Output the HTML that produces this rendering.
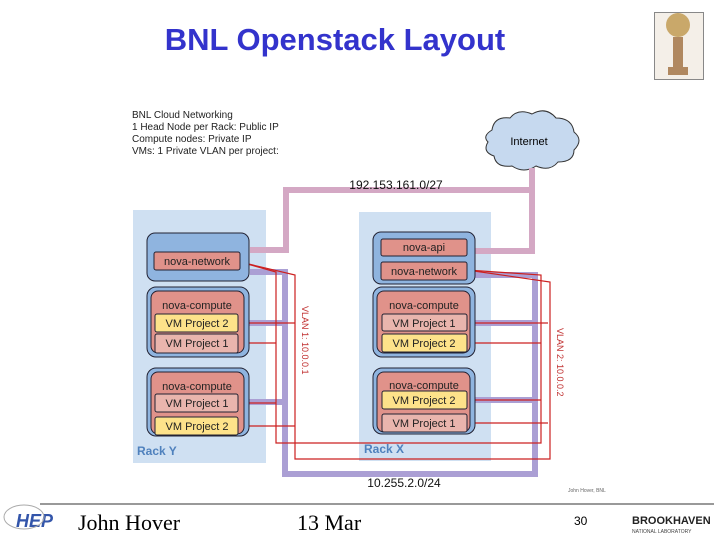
<!DOCTYPE html>
<html><head><style>
body{margin:0;width:720px;height:540px;background:#fff;position:relative;overflow:hidden;font-family:"Liberation Sans",sans-serif}
.a{position:absolute}
</style></head><body>
<div class="a" style="left:0;top:22px;width:670px;text-align:center;font-size:31px;font-weight:bold;color:#3333cc">BNL Openstack Layout</div>
<div class="a" style="left:654px;top:12px;width:48px;height:66px;border:1px solid #888;background:#f4efe8"></div>
<svg class="a" style="left:0;top:0" width="720" height="540">
<g transform="translate(678,45)" fill="#b08860"><circle cx="0" cy="-20" r="12" fill="#c9a86a"/><rect x="-5" y="-8" width="10" height="30"/><rect x="-10" y="22" width="20" height="8"/></g>
<g font-size="10" fill="#222"><text x="132" y="118">BNL Cloud Networking</text><text x="132" y="130">1 Head Node per Rack: Public IP</text><text x="132" y="142">Compute nodes: Private IP</text><text x="132" y="154">VMs: 1 Private VLAN per project:</text></g>
<path d="M492,130 q2,-14 18,-12 q8,-10 22,-4 q14,-8 24,4 q16,0 18,14 q10,8 0,18 q0,12 -16,12 q-8,10 -22,4 q-12,8 -24,0 q-16,2 -18,-10 q-12,-4 -6,-14 q-6,-6 4,-12z" fill="#c6d9ef" stroke="#333" stroke-width="1"/>
<text x="529" y="145" font-size="11" text-anchor="middle">Internet</text>
<rect x="133" y="210" width="133" height="253" fill="#cfe0f2"/>
<rect x="359" y="212" width="132" height="249" fill="#cfe0f2"/>
<g fill="none" stroke-width="6">
<path d="M250,250 H286 V190 H532 V168 M532,190 V251 H475" stroke="#d4a8c4"/>
<path d="M250,272 H285 V474 H535 V275 H475 M249,323 H285 M249,402 H285 M475,323 H535 M475,400 H535" stroke="#ab9fd4"/>
</g>
<g fill="none" stroke="#cc2020" stroke-width="1.2">
<path d="M240,262 L276,272 V443 H541 V275 L467,270"/>
<path d="M240,262 L295,275 V459 H550 V282 L467,270"/>
<path d="M238,323 H295 M238,343 H276 M238,403 H276 M238,426 H295"/>
<path d="M467,323 H548 M467,343 H541 M467,400 H541 M467,423 H548"/>
</g>
<g stroke="#223" stroke-width="1">
<rect x="147" y="233" width="102" height="48" rx="8" fill="#8fb4df"/>
<rect x="147" y="287" width="102" height="70" rx="9" fill="#8fb4df"/>
<rect x="147" y="368" width="102" height="68" rx="9" fill="#8fb4df"/>
<rect x="373" y="232" width="102" height="52" rx="8" fill="#8fb4df"/>
<rect x="373" y="287" width="102" height="70" rx="9" fill="#8fb4df"/>
<rect x="373" y="368" width="102" height="66" rx="9" fill="#8fb4df"/>
<rect x="151" y="291" width="93" height="62" rx="7" fill="#e0928a"/>
<rect x="151" y="372" width="93" height="62" rx="7" fill="#e0928a"/>
<rect x="377" y="291" width="93" height="62" rx="7" fill="#e0928a"/>
<rect x="377" y="372" width="93" height="60" rx="7" fill="#e0928a"/>
<rect x="154" y="252" width="86" height="18" rx="2" fill="#e0928a"/>
<rect x="381" y="239" width="86" height="17" rx="2" fill="#e0928a"/>
<rect x="381" y="262" width="86" height="18" rx="2" fill="#e0928a"/>
<rect x="155" y="314" width="83" height="18" rx="2" fill="#fde28a"/>
<rect x="155" y="334" width="83" height="19" rx="2" fill="#e9b5ad"/>
<rect x="155" y="394" width="83" height="18" rx="2" fill="#e9b5ad"/>
<rect x="155" y="417" width="83" height="18" rx="2" fill="#fde28a"/>
<rect x="382" y="314" width="85" height="17" rx="2" fill="#e9b5ad"/>
<rect x="382" y="334" width="85" height="18" rx="2" fill="#fde28a"/>
<rect x="382" y="391" width="85" height="18" rx="2" fill="#fde28a"/>
<rect x="382" y="414" width="85" height="18" rx="2" fill="#e9b5ad"/>
</g>
<g font-size="11" fill="#222" text-anchor="middle">
<text x="197" y="265">nova-network</text>
<text x="197" y="309">nova-compute</text><text x="197" y="327">VM Project 2</text><text x="197" y="347">VM Project 1</text>
<text x="197" y="390">nova-compute</text><text x="197" y="407">VM Project 1</text><text x="197" y="430">VM Project 2</text>
<text x="424" y="251">nova-api</text><text x="424" y="275">nova-network</text>
<text x="424" y="309">nova-compute</text><text x="424" y="327">VM Project 1</text><text x="424" y="347">VM Project 2</text>
<text x="424" y="389">nova-compute</text><text x="424" y="404">VM Project 2</text><text x="424" y="427">VM Project 1</text>
</g>
<g font-size="12" font-weight="bold" fill="#4f81bd"><text x="137" y="455">Rack Y</text><text x="364" y="453">Rack X</text></g>
<g font-size="12" fill="#111" text-anchor="middle"><text x="396" y="189">192.153.161.0/27</text><text x="404" y="487">10.255.2.0/24</text></g>
<g font-size="9" fill="#c03030"><text transform="translate(302,306) rotate(90)">VLAN 1: 10.0.0.1</text><text transform="translate(557,328) rotate(90)">VLAN 2: 10.0.0.2</text></g>
<text x="568" y="492" font-size="5" fill="#666">John Hover, BNL</text>
<line x1="40" y1="504" x2="714" y2="504" stroke="#333" stroke-width="1"/>
<text x="16" y="527" font-size="18" font-weight="bold" fill="#3355aa" font-style="italic">HEP</text>
<ellipse cx="24" cy="517" rx="20" ry="12" fill="none" stroke="#aaa"/>
<text x="632" y="524" font-size="11" font-weight="bold" fill="#222">BROOKHAVEN</text>
<text x="632" y="533" font-size="5" fill="#444">NATIONAL LABORATORY</text>
</svg>
<div class="a" style="left:78px;top:510px;font-family:'Liberation Serif',serif;font-size:22px">John Hover</div>
<div class="a" style="left:297px;top:510px;font-family:'Liberation Serif',serif;font-size:22px">13 Mar</div>
<div class="a" style="left:574px;top:514px;font-size:12px">30</div>
</body></html>
